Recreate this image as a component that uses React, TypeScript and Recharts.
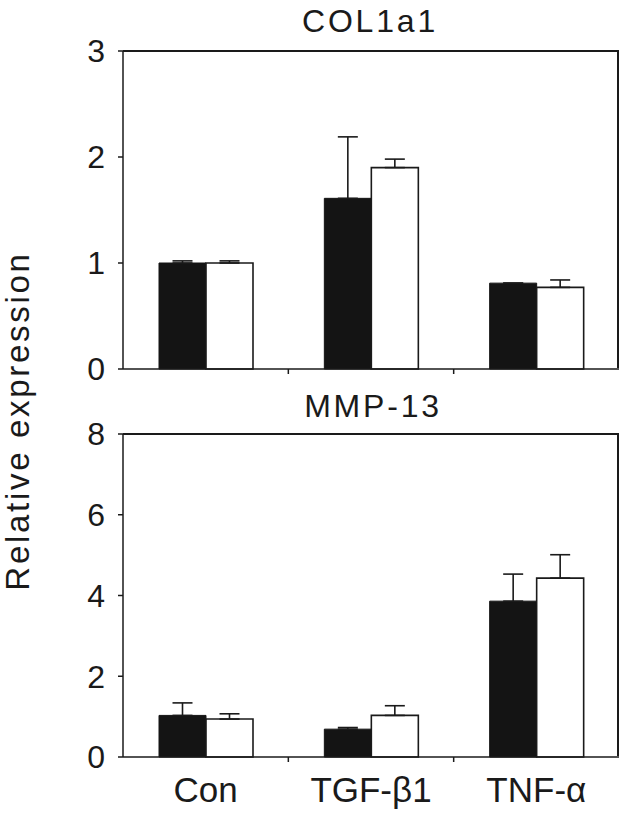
import React from 'react';
import { BarChart, Bar, XAxis, YAxis, ErrorBar } from 'recharts';

const categories = ['Con', 'TGF-β1', 'TNF-α'];

// COL1a1
const col1a1Black = [1.0, 1.61, 0.81];
const col1a1BlackErr = [0.02, 0.58, 0];
const col1a1White = [1.0, 1.9, 0.77];
const col1a1WhiteErr = [0.02, 0.08, 0.07];

// MMP-13
const mmp13Black = [1.03, 0.69, 3.86];
const mmp13BlackErr = [0.31, 0.04, 0.67];
const mmp13White = [0.94, 1.03, 4.43];
const mmp13WhiteErr = [0.13, 0.24, 0.58];

const col1a1Ticks = [0, 1, 2, 3];
const mmp13Ticks = [0, 2, 4, 6, 8];

const buildRows = (black: number[], blackErr: number[], white: number[], whiteErr: number[]) =>
  categories.map((name, i) => ({
    name,
    black: black[i],
    blackErr: [0, blackErr[i]],
    white: white[i],
    whiteErr: [0, whiteErr[i]],
  }));

const col1a1Data = buildRows(col1a1Black, col1a1BlackErr, col1a1White, col1a1WhiteErr);
const mmp13Data = buildRows(mmp13Black, mmp13BlackErr, mmp13White, mmp13WhiteErr);

const W = 621;
const PLOT_LEFT = 123;
const PLOT_RIGHT = 619;
const HALF_BAND = (PLOT_RIGHT - PLOT_LEFT) / categories.length / 2;
const FONT = '"Liberation Sans", Arial, Helvetica, sans-serif';
const INK = '#1a1a1a';

// panel layout
const P1 = { offset: 0, height: 400, top: 51, xHeight: 31 };
const P2 = { offset: 400, height: 419, top: 34, xHeight: 62 };
const plotTop = (p: typeof P1) => p.offset + p.top;
const plotBottom = (p: typeof P1) => p.offset + p.height - p.xHeight;

const CatTick = (props: any) => {
  const { x, y, payload, index, showLabel } = props;
  return (
    <g>
      {index < categories.length - 1 && (
        <line x1={x + HALF_BAND} x2={x + HALF_BAND} y1={y} y2={y + 5} stroke={INK} strokeWidth={1.5} />
      )}
      {showLabel && (
        <text x={x} y={y + 45} textAnchor="middle" fontSize={35} fontFamily={FONT} fill={INK}>
          {payload.value}
        </text>
      )}
    </g>
  );
};

const Panel: React.FC<{
  data: any[];
  ticks: number[];
  height: number;
  top: number;
  xHeight: number;
  showLabels: boolean;
}> = ({ data, ticks, height, top, xHeight, showLabels }) => (
  <BarChart
    width={W}
    height={height}
    data={data}
    margin={{ top, right: W - PLOT_RIGHT, left: 0, bottom: 0 }}
    barGap={0}
    barSize={47}
  >
    <XAxis
      dataKey="name"
      height={xHeight}
      tickSize={0}
      tickMargin={0}
      tickLine={false}
      interval={0}
      axisLine={{ stroke: INK, strokeWidth: 1.5 }}
      tick={(p: any) => <CatTick {...p} showLabel={showLabels} />}
    />
    <YAxis
      width={PLOT_LEFT}
      domain={[ticks[0], ticks[ticks.length - 1]]}
      ticks={ticks}
      interval={0}
      tickSize={5}
      tickMargin={13}
      axisLine={{ stroke: INK, strokeWidth: 1.5 }}
      tickLine={{ stroke: INK, strokeWidth: 1.5 }}
      tick={{ fill: INK, fontSize: 32, fontFamily: FONT }}
    />
    <Bar dataKey="black" fill="#141414" stroke="#141414" strokeWidth={1} isAnimationActive={false}>
      <ErrorBar dataKey="blackErr" width={10} stroke={INK} strokeWidth={1.6} direction="y" />
    </Bar>
    <Bar dataKey="white" fill="#ffffff" stroke={INK} strokeWidth={1.6} isAnimationActive={false}>
      <ErrorBar dataKey="whiteErr" width={10} stroke={INK} strokeWidth={1.6} direction="y" />
    </Bar>
  </BarChart>
);

export default function App() {
  return (
    <div style={{ position: 'absolute', left: 0, top: 0, width: W, height: 819, background: '#fff', fontFamily: FONT }}>
      <div style={{ position: 'absolute', left: 0, top: P1.offset }}>
        <Panel data={col1a1Data} ticks={col1a1Ticks} height={P1.height} top={P1.top} xHeight={P1.xHeight} showLabels={false} />
      </div>
      <div style={{ position: 'absolute', left: 0, top: P2.offset }}>
        <Panel data={mmp13Data} ticks={mmp13Ticks} height={P2.height} top={P2.top} xHeight={P2.xHeight} showLabels={true} />
      </div>
      {/* top and right edges of each panel's box */}
      {[P1, P2].map((p, i) => (
        <div
          key={i}
          style={{
            position: 'absolute',
            left: PLOT_LEFT,
            top: plotTop(p) - 1,
            width: PLOT_RIGHT - PLOT_LEFT,
            height: plotBottom(p) - plotTop(p),
            borderTop: `2px solid ${INK}`,
            borderRight: `2px solid ${INK}`,
            boxSizing: 'border-box',
            pointerEvents: 'none',
          }}
        />
      ))}
      <svg width={W} height={819} style={{ position: 'absolute', left: 0, top: 0, pointerEvents: 'none' }}>
        <text x={370} y={32} textAnchor="middle" fontSize={32} letterSpacing={2.8} fontFamily={FONT} fill={INK}>
          COL1a1
        </text>
        <text x={373} y={417} textAnchor="middle" fontSize={32} letterSpacing={2.8} fontFamily={FONT} fill={INK}>
          MMP-13
        </text>
        <text
          transform="translate(29,421) rotate(-90)"
          x={0}
          y={0}
          textAnchor="middle"
          fontSize={33}
          letterSpacing={2.7}
          fontFamily={FONT}
          fill={INK}
        >
          Relative expression
        </text>
      </svg>
    </div>
  );
}
